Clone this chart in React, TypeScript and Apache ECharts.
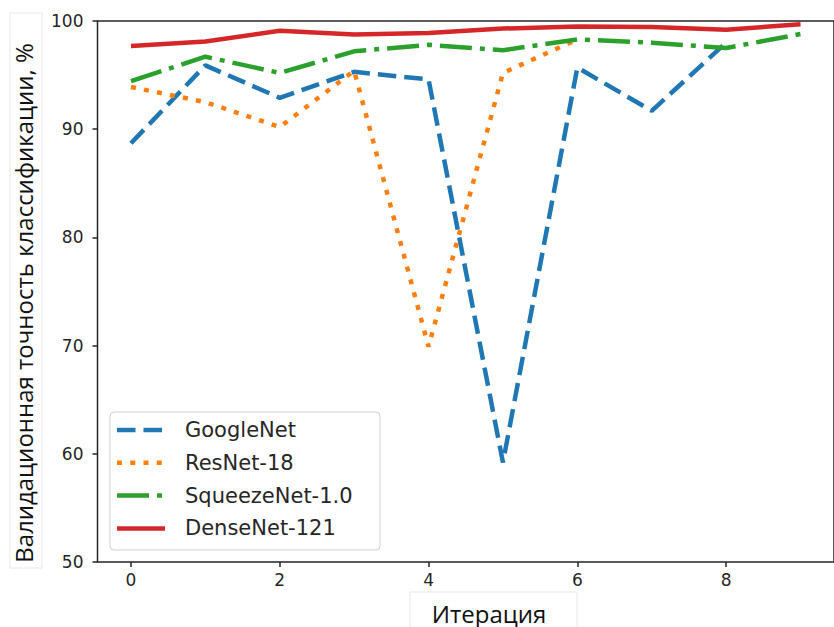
import React, { useEffect, useRef } from "react";
import * as echarts from "echarts";

const iterations = [0, 1, 2, 3, 4, 5, 6, 7, 8, 9];
const googleNet = [88.7, 95.9, 92.9, 95.3, 94.6, 59.2, 95.7, 91.7, 98.0, null];
const resNet18 = [93.9, 92.5, 90.2, 95.4, 69.9, 95.2, 98.3, null, null, null];
const squeezeNet = [94.45, 96.7, 95.2, 97.2, 97.8, 97.3, 98.3, 98.0, 97.5, 98.8];
const denseNet = [97.7, 98.1, 99.1, 98.75, 98.9, 99.3, 99.5, 99.45, 99.2, 99.7];
const seriesNames = ["GoogleNet", "ResNet-18", "SqueezeNet-1.0", "DenseNet-121"];
const xTicks = [0, 2, 4, 6, 8];
const yTicks = [50, 60, 70, 80, 90, 100];

const colors = ["#1f77b4", "#ff7f0e", "#2ca02c", "#d62728"];
const dashes: any[] = [[18.5, 8], [5, 8.25], [32, 8, 5, 8], null];

export default function App() {
  const ref = useRef<HTMLDivElement>(null);
  useEffect(() => {
    if (!ref.current) return;
    const chart = echarts.init(ref.current, null, { renderer: "svg" });
    const all = [googleNet, resNet18, squeezeNet, denseNet];
    const series = all.map((vals, k) => ({
      name: seriesNames[k],
      type: "line",
      data: iterations
        .map((x, i) => (vals[i] == null ? null : [x, vals[i]]))
        .filter((d) => d !== null),
      showSymbol: false,
      symbol: "none",
      lineStyle: {
        color: colors[k],
        width: 4.5,
        type: dashes[k] ?? "solid",
        cap: "butt",
      },
      itemStyle: { color: colors[k] },
      z: 2 + k,
    }));

    // legend drawn as graphic elements
    const legendTop = 430;
    const legendStep = 32.8;
    const legendEls: any[] = [
      {
        type: "rect",
        shape: { x: 110, y: 412, width: 270, height: 138, r: 4 },
        style: { fill: "rgba(255,255,255,0.85)", stroke: "#d0d0d0", lineWidth: 1 },
        z: 10,
      },
    ];
    seriesNames.forEach((name, k) => {
      const y = legendTop + k * legendStep;
      legendEls.push({
        type: "line",
        shape: { x1: 117, y1: y, x2: 165, y2: y },
        style: {
          stroke: colors[k],
          lineWidth: 4.5,
          lineDash: dashes[k] ?? undefined,
          lineCap: "butt",
        },
        z: 11,
      });
      legendEls.push({
        type: "text",
        x: 185,
        y: y,
        style: {
          text: name,
          fontFamily: "DejaVu Sans",
          fontSize: 21,
          fill: "#262626",
          align: "left",
          verticalAlign: "middle",
        },
        z: 11,
      });
    });

    chart.setOption({
      animation: false,
      backgroundColor: "#ffffff",
      grid: {
        left: 97.5,
        top: 21,
        width: 742.5,
        height: 541,
        show: true,
        borderColor: "#262626",
        borderWidth: 1.5,
        backgroundColor: "transparent",
      },
      xAxis: {
        type: "value",
        min: -0.45,
        max: 9.45,
        axisLine: { show: false, onZero: false },
        splitLine: { show: false },
        axisTick: {
          show: true,
          customValues: xTicks,
          length: 5,
          inside: false,
          lineStyle: { color: "#262626", width: 1.5 },
        },
        axisLabel: {
          customValues: xTicks,
          margin: 9,
          fontFamily: "DejaVu Sans",
          fontSize: 17,
          color: "#262626",
        },
      },
      yAxis: {
        type: "value",
        min: 50,
        max: 100,
        interval: 10,
        axisLine: { show: false, onZero: false },
        splitLine: { show: false },
        axisTick: {
          show: true,
          length: 5,
          inside: false,
          lineStyle: { color: "#262626", width: 1.5 },
        },
        axisLabel: {
          margin: 14,
          fontFamily: "DejaVu Sans",
          fontSize: 17,
          color: "#262626",
          formatter: (v: number) => (yTicks.includes(v) ? String(v) : ""),
        },
      },
      legend: { show: false },
      graphic: [
        {
          type: "rect",
          shape: { x: 10, y: 13, width: 32, height: 555 },
          style: { fill: "#ffffff", stroke: "#e8e8e8", lineWidth: 1 },
          z: 0,
        },
        {
          type: "text",
          x: 23,
          y: 303,
          rotation: Math.PI / 2,
          style: {
            text: "Валидационная точность классификации, %",
            fontFamily: "Open Sans",
            fontSize: 24,
            fill: "#111111",
            align: "center",
            verticalAlign: "middle",
          },
          z: 1,
        },
        {
          type: "rect",
          shape: { x: 410, y: 592, width: 167, height: 45 },
          style: { fill: "#ffffff", stroke: "#e8e8e8", lineWidth: 1 },
          z: 0,
        },
        {
          type: "text",
          x: 489,
          y: 625,
          style: {
            text: "Итерация",
            fontFamily: "Open Sans",
            fontSize: 24,
            fill: "#111111",
            align: "center",
            verticalAlign: "bottom",
          },
          z: 1,
        },
        ...legendEls,
      ],
      series,
    });
    return () => chart.dispose();
  }, []);
  return (
    <div
      ref={ref}
      style={{ position: "fixed", left: 0, top: 0, width: 834, height: 627 }}
    />
  );
}
